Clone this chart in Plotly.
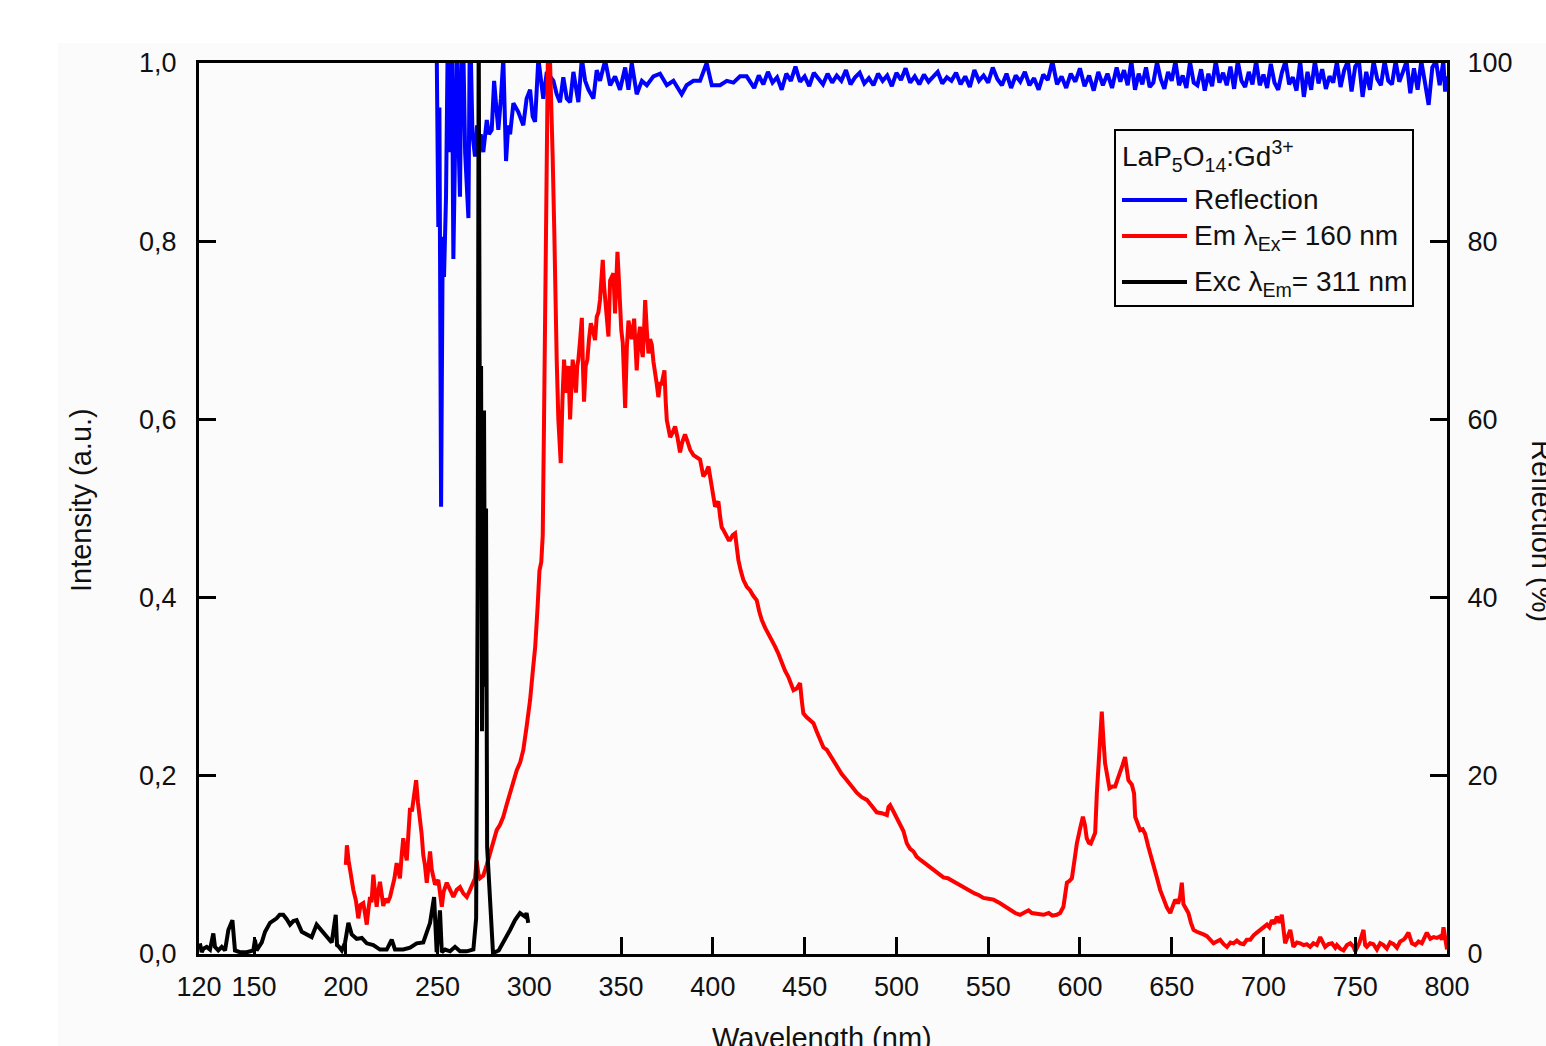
import plotly.graph_objects as go

# ---------------- data ----------------
refl_nm = [249.5, 250.4, 251.0, 251.9, 252.8, 253.5, 254.6, 255.5, 256.8, 257.8, 258.6, 259.5, 260.4, 261.3,
           262.2, 263.0, 264.0, 265.0, 266.8, 267.5, 268.0, 269.0, 270.4, 271.5, 272.5, 273.5, 274.9, 276.8,
           278.0, 279.5, 280.8, 282.0, 283.1, 284.5, 285.8, 287.3, 288.5, 289.5, 291.3, 294.0, 296.7, 298.5,
           300.4, 301.8, 303.1, 304.9, 307.6, 309.5, 311.3, 313.1, 314.9, 316.7, 318.5, 320.4, 322.2, 324.0,
           326.7, 328.6, 330.4, 332.2, 334.9, 336.7, 338.5, 341.3, 344.0, 346.7, 349.4, 352.2, 354.0, 355.8,
           358.5, 361.3, 364.0, 367.6, 371.2, 374.9, 378.5, 383.0, 385.7, 389.4, 393.0, 396.6, 399.4, 403.9,
           407.6, 411.2, 414.8, 418.4, 420.0, 422.5, 425.0, 427.5, 430.0, 432.5, 435.0, 437.5, 440.0, 442.5,
           445.0, 447.5, 450.0, 452.5, 455.0, 457.5, 460.0, 462.5, 465.0, 467.5, 470.0, 472.5, 475.0, 477.5,
           480.0, 482.5, 485.0, 487.5, 490.0, 492.5, 495.0, 497.5, 500.0, 502.5, 505.0, 507.5, 510.0, 512.5,
           515.0, 517.5, 520.0, 522.5, 525.0, 527.5, 530.0, 532.5, 535.0, 537.5, 540.0, 542.5, 545.0, 547.5,
           550.0, 552.5, 555.0, 557.5, 560.0, 562.5, 565.0, 567.5, 570.0, 572.5, 575.0, 577.5, 580.0, 582.5,
           585.0, 587.5, 590.0, 592.5, 595.0, 597.5, 600.0, 602.5, 605.0, 607.5, 610.0, 612.5, 615.0, 617.5,
           620.0, 622.0, 624.0, 626.0, 628.0, 630.0, 632.0, 634.0, 636.0, 638.0, 640.0, 642.0, 644.0, 646.0,
           648.0, 650.0, 652.0, 654.0, 656.0, 658.0, 660.0, 662.0, 664.0, 666.0, 668.0, 670.0, 672.0, 674.0,
           676.0, 678.0, 680.0, 682.0, 684.0, 686.0, 688.0, 690.0, 692.0, 694.0, 696.0, 698.0, 700.0, 702.0,
           704.0, 706.0, 708.0, 710.0, 712.0, 714.0, 716.0, 718.0, 720.0, 722.0, 724.0, 726.0, 728.0, 730.0,
           732.0, 734.0, 736.0, 738.0, 740.0, 742.0, 744.0, 746.0, 748.0, 750.0, 752.0, 754.0, 756.0, 758.0,
           760.0, 762.0, 764.0, 766.0, 768.0, 770.0, 772.0, 774.0, 776.0, 778.0, 780.0, 782.0, 784.0, 786.0,
           788.0, 790.0, 792.0, 794.0, 796.0, 798.0, 799.0, 800.0]
refl_pct = [102.0, 81.6, 95.0, 50.2, 80.5, 76.0, 85.0, 102.0, 90.0, 102.0, 78.0, 95.0, 102.0, 92.0,
            85.0, 102.0, 102.0, 90.0, 82.6, 102.0, 102.0, 92.0, 89.5, 93.0, 91.0, 92.0, 90.0, 93.6,
            92.0, 92.5, 98.0, 95.0, 92.5, 96.0, 100.5, 89.0, 93.0, 92.0, 95.5, 94.5, 93.0, 96.0,
            97.0, 94.0, 93.4, 100.5, 96.0, 99.0, 98.5, 98.0, 96.5, 95.6, 98.4, 96.0, 95.6, 99.0,
            95.6, 100.5, 98.0, 97.0, 96.0, 99.2, 98.0, 100.3, 97.5, 98.5, 97.0, 99.5, 97.0, 100.0,
            96.5, 98.0, 97.5, 98.5, 98.8, 97.5, 98.0, 96.5, 97.5, 98.0, 98.0, 100.0, 97.5, 97.5,
            98.0, 97.8, 98.5, 98.5, 98.0, 97.2, 98.6, 97.6, 99.0, 97.8, 98.4, 97.0, 98.8, 98.0,
            99.6, 97.9, 98.5, 97.4, 98.9, 98.2, 97.6, 98.8, 97.8, 98.6, 98.0, 99.2, 97.6, 98.4,
            98.9, 97.7, 98.3, 97.5, 98.8, 98.0, 98.6, 97.4, 98.9, 98.1, 99.4, 97.8, 98.5, 97.6,
            98.7, 97.9, 98.5, 99.0, 97.7, 98.4, 98.0, 98.9, 97.6, 98.5, 97.3, 99.2, 98.0, 98.6,
            97.8, 99.5, 98.2, 97.5, 98.8, 97.2, 98.6, 97.9, 99.0, 97.5, 98.3, 97.0, 98.7, 98.1,
            100.2, 97.6, 98.5, 97.2, 98.8, 97.9, 99.4, 97.4, 98.6, 96.9, 99.0, 97.5, 98.8, 97.2,
            99.5, 97.9, 99.2, 97.5, 100.2, 97.0, 98.8, 97.6, 99.5, 97.3, 97.8, 100.1, 98.2, 97.1,
            99.0, 98.0, 100.2, 97.5, 98.6, 97.2, 100.1, 97.8, 97.5, 99.3, 96.9, 98.8, 97.4, 100.2,
            97.8, 98.9, 97.5, 99.6, 97.1, 100.2, 98.0, 97.3, 99.0, 97.6, 100.2, 97.5, 98.7, 97.2,
            99.9, 97.8, 97.0, 98.9, 100.2, 97.6, 98.4, 96.9, 100.2, 96.2, 99.0, 97.0, 100.2, 97.7,
            99.3, 97.1, 98.5, 97.8, 100.1, 97.3, 99.2, 100.2, 96.8, 99.6, 100.2, 96.2, 99.0, 97.0,
            100.2, 98.2, 97.5, 100.2, 98.0, 97.6, 100.2, 97.9, 99.0, 100.2, 96.6, 99.4, 97.0, 100.2,
            97.8, 95.3, 99.5, 100.2, 97.5, 100.2, 96.8, 98.5]

em_nm = [200.0, 200.6, 201.5, 202.5, 204.1, 205.5, 206.8, 208.0, 209.5, 210.5, 211.4, 212.3, 213.2, 214.0,
         215.0, 215.9, 216.8, 217.7, 218.6, 219.5, 220.4, 221.5, 222.8, 224.1, 225.2, 226.5, 227.7, 228.6,
         229.5, 230.4, 231.3, 232.2, 233.2, 234.1, 235.0, 236.0, 237.2, 238.3, 239.3, 240.4, 241.3, 242.2,
         243.1, 244.1, 245.0, 245.9, 246.8, 247.7, 248.6, 250.4, 251.3, 252.3, 253.3, 255.0, 256.8, 258.6,
         260.4, 262.2, 264.0, 265.9, 267.7, 269.5, 270.4, 271.3, 272.2, 273.1, 274.9, 276.8, 278.6, 280.4,
         282.2, 284.0, 285.8, 287.7, 289.5, 291.3, 293.1, 295.0, 296.7, 298.5, 300.4, 302.0, 303.2, 304.5,
         305.5, 306.5, 307.3, 308.0, 308.7, 309.5, 310.3, 311.3, 312.0, 312.7, 313.6, 314.3, 314.9, 315.8,
         317.1, 318.0, 318.9, 319.6, 320.4, 321.3, 322.2, 323.0, 323.6, 324.5, 325.4, 326.1, 326.7, 327.7,
         328.6, 329.2, 329.8, 330.7, 331.6, 332.5, 333.5, 334.6, 335.8, 336.7, 337.6, 338.5, 339.3, 340.0,
         340.7, 341.3, 342.2, 343.1, 344.0, 345.0, 345.8, 346.7, 347.4, 348.0, 348.7, 349.4, 350.1, 350.9,
         351.5, 352.2, 353.1, 354.0, 354.9, 355.8, 357.1, 357.8, 358.5, 359.4, 360.3, 361.0, 361.8, 362.5,
         363.1, 364.0, 364.9, 365.8, 366.7, 367.6, 368.5, 369.4, 370.3, 371.2, 372.1, 372.8, 373.6, 374.3,
         374.9, 375.8, 376.7, 378.0, 379.4, 380.7, 382.1, 383.4, 384.8, 386.2, 387.6, 389.4, 391.2, 393.0,
         394.8, 396.2, 397.6, 399.0, 400.2, 401.2, 402.1, 403.0, 404.0, 404.8, 405.7, 407.0, 408.5, 409.4,
         410.8, 412.1, 413.0, 413.9, 415.2, 416.6, 418.5, 420.3, 422.0, 423.9, 425.2, 426.6, 428.5, 430.2,
         432.0, 433.9, 435.7, 437.5, 439.3, 441.1, 442.5, 443.9, 445.7, 447.5, 448.4, 449.3, 451.0, 452.8,
         454.8, 456.5, 458.4, 460.2, 462.1, 464.8, 467.5, 470.2, 473.0, 475.7, 478.4, 481.1, 483.9, 486.6,
         489.3, 492.0, 494.8, 495.7, 496.6, 498.4, 500.2, 502.0, 503.8, 505.7, 507.5, 509.3, 511.1, 513.5,
         515.9, 518.4, 520.8, 523.2, 525.6, 528.0, 530.5, 532.9, 535.3, 537.7, 540.2, 542.6, 545.0, 547.4,
         550.1, 552.9, 556.5, 559.2, 562.0, 564.7, 567.4, 570.0, 572.0, 573.8, 576.8, 580.1, 583.0, 585.0,
         587.4, 589.2, 591.0, 592.9, 594.3, 595.6, 597.0, 598.3, 600.0, 601.6, 602.7, 603.7, 604.8, 605.9,
         607.1, 608.3, 609.2, 610.1, 611.0, 611.9, 612.8, 613.7, 614.9, 616.1, 617.6, 619.2, 620.5, 621.9,
         623.2, 624.6, 625.5, 626.4, 628.3, 629.5, 630.1, 631.5, 632.8, 634.2, 635.5, 637.3, 638.7, 640.1,
         641.9, 643.7, 645.5, 647.4, 649.2, 650.5, 651.9, 652.8, 653.7, 654.6, 655.5, 656.4, 657.7, 659.1,
         660.5, 661.9, 663.7, 665.5, 667.3, 669.2, 671.0, 672.8, 674.6, 676.4, 678.3, 680.1, 682.0, 683.7,
         685.5, 687.3, 689.2, 690.9, 692.8, 694.6, 696.4, 698.2, 700.0, 701.9, 703.2, 704.6, 706.0, 707.3,
         708.7, 710.0, 711.8, 713.2, 714.6, 716.3, 718.2, 720.0, 721.8, 723.6, 725.4, 727.2, 729.1, 730.9,
         732.3, 733.6, 735.4, 737.3, 739.1, 740.0, 741.8, 743.6, 745.5, 747.3, 749.1, 750.0, 752.2, 754.5,
         755.4, 756.3, 758.1, 759.9, 761.8, 763.6, 765.4, 767.2, 769.0, 770.9, 772.7, 774.5, 776.3, 777.2,
         779.0, 780.9, 782.7, 784.5, 786.3, 788.1, 789.0, 790.9, 792.7, 794.5, 796.3, 797.2, 798.1, 799.0,
         800.0]
em_int = [0.100, 0.122, 0.105, 0.090, 0.072, 0.060, 0.040, 0.055, 0.057, 0.045, 0.033, 0.050, 0.064, 0.058,
          0.089, 0.070, 0.053, 0.070, 0.081, 0.068, 0.054, 0.062, 0.058, 0.064, 0.072, 0.085, 0.102, 0.090,
          0.085, 0.110, 0.130, 0.115, 0.105, 0.135, 0.164, 0.160, 0.180, 0.195, 0.170, 0.154, 0.135, 0.111,
          0.100, 0.080, 0.100, 0.115, 0.095, 0.083, 0.078, 0.083, 0.065, 0.053, 0.070, 0.080, 0.072, 0.064,
          0.072, 0.075, 0.068, 0.064, 0.072, 0.081, 0.085, 0.105, 0.090, 0.085, 0.088, 0.100, 0.113, 0.125,
          0.139, 0.145, 0.154, 0.168, 0.180, 0.195, 0.206, 0.215, 0.229, 0.255, 0.285, 0.320, 0.345, 0.390,
          0.430, 0.440, 0.470, 0.600, 0.780, 0.950, 1.050, 1.000, 0.920, 0.895, 0.810, 0.720, 0.667, 0.600,
          0.551, 0.620, 0.667, 0.640, 0.630, 0.660, 0.600, 0.640, 0.667, 0.650, 0.630, 0.660, 0.667, 0.690,
          0.714, 0.660, 0.620, 0.660, 0.667, 0.690, 0.708, 0.700, 0.689, 0.715, 0.720, 0.734, 0.760, 0.779,
          0.750, 0.734, 0.710, 0.693, 0.756, 0.760, 0.764, 0.719, 0.760, 0.788, 0.760, 0.719, 0.700, 0.686,
          0.650, 0.613, 0.680, 0.711, 0.700, 0.690, 0.713, 0.690, 0.655, 0.690, 0.704, 0.680, 0.670, 0.700,
          0.734, 0.700, 0.674, 0.690, 0.684, 0.665, 0.648, 0.640, 0.625, 0.640, 0.640, 0.650, 0.655, 0.620,
          0.599, 0.590, 0.580, 0.585, 0.592, 0.580, 0.563, 0.575, 0.583, 0.575, 0.566, 0.560, 0.557, 0.555,
          0.536, 0.540, 0.547, 0.530, 0.515, 0.502, 0.505, 0.508, 0.490, 0.479, 0.476, 0.470, 0.465, 0.465,
          0.470, 0.472, 0.455, 0.442, 0.430, 0.420, 0.412, 0.408, 0.402, 0.397, 0.385, 0.375, 0.366, 0.360,
          0.352, 0.345, 0.337, 0.327, 0.318, 0.311, 0.303, 0.296, 0.298, 0.304, 0.285, 0.270, 0.266, 0.262,
          0.259, 0.250, 0.240, 0.232, 0.229, 0.220, 0.210, 0.202, 0.195, 0.188, 0.181, 0.176, 0.173, 0.166,
          0.159, 0.158, 0.156, 0.165, 0.167, 0.160, 0.153, 0.147, 0.138, 0.124, 0.118, 0.115, 0.109, 0.105,
          0.101, 0.098, 0.094, 0.090, 0.086, 0.085, 0.082, 0.080, 0.077, 0.073, 0.070, 0.068, 0.066, 0.063,
          0.062, 0.061, 0.057, 0.053, 0.049, 0.046, 0.044, 0.047, 0.049, 0.046, 0.045, 0.044, 0.046, 0.043,
          0.044, 0.046, 0.053, 0.080, 0.082, 0.085, 0.105, 0.124, 0.140, 0.154, 0.145, 0.130, 0.125, 0.124,
          0.130, 0.136, 0.180, 0.214, 0.250, 0.272, 0.240, 0.214, 0.200, 0.186, 0.188, 0.188, 0.196, 0.206,
          0.212, 0.221, 0.205, 0.195, 0.190, 0.180, 0.154, 0.145, 0.139, 0.140, 0.135, 0.120, 0.110, 0.102,
          0.086, 0.072, 0.061, 0.052, 0.046, 0.052, 0.061, 0.058, 0.058, 0.065, 0.080, 0.056, 0.050, 0.046,
          0.035, 0.027, 0.025, 0.024, 0.022, 0.020, 0.016, 0.012, 0.014, 0.016, 0.011, 0.008, 0.013, 0.012,
          0.015, 0.012, 0.011, 0.016, 0.016, 0.021, 0.024, 0.027, 0.029, 0.033, 0.030, 0.038, 0.034, 0.042,
          0.035, 0.044, 0.012, 0.020, 0.027, 0.008, 0.013, 0.012, 0.010, 0.011, 0.008, 0.012, 0.010, 0.019,
          0.012, 0.008, 0.011, 0.012, 0.007, 0.010, 0.006, 0.004, 0.010, 0.012, 0.008, 0.003, 0.012, 0.027,
          0.010, 0.008, 0.012, 0.011, 0.005, 0.012, 0.010, 0.006, 0.013, 0.011, 0.007, 0.014, 0.016, 0.018,
          0.024, 0.012, 0.010, 0.014, 0.012, 0.020, 0.024, 0.017, 0.019, 0.018, 0.020, 0.016, 0.030, 0.018,
          0.005]

exc_nm = [120.5, 121.5, 122.4, 124.2, 126.0, 127.8, 128.7, 130.5, 132.4, 134.2, 136.0, 138.2, 139.6, 142.3,
          146.0, 149.6, 150.5, 151.4, 154.2, 156.0, 158.7, 162.3, 164.0, 165.9, 167.8, 169.6, 171.4, 173.2,
          176.0, 178.7, 181.4, 184.1, 186.9, 189.6, 192.3, 194.5, 195.2, 195.9, 197.8, 199.6, 201.4, 203.2,
          205.9, 208.7, 211.4, 215.0, 218.6, 222.3, 225.0, 226.8, 231.3, 235.0, 238.6, 242.2, 244.1, 245.9,
          248.1, 249.5, 251.3, 252.3, 254.1, 256.8, 259.5, 262.2, 265.9, 269.5, 271.0, 271.8, 272.4, 273.0,
          273.7, 274.2, 274.8, 275.3, 275.9, 276.4, 277.0, 277.5, 278.5, 279.3, 280.2, 283.3, 286.7, 289.5,
          292.2, 294.9, 297.6, 298.5, 299.4]
exc_int = [0.012, 0.002, 0.006, 0.008, 0.005, 0.023, 0.008, 0.004, 0.008, 0.004, 0.027, 0.038, 0.004, 0.002,
           0.002, 0.004, 0.016, 0.004, 0.013, 0.025, 0.035, 0.040, 0.044, 0.044, 0.039, 0.033, 0.037, 0.038,
           0.025, 0.022, 0.019, 0.033, 0.026, 0.018, 0.013, 0.044, 0.010, 0.009, 0.004, 0.013, 0.035, 0.022,
           0.017, 0.018, 0.012, 0.010, 0.005, 0.005, 0.016, 0.005, 0.005, 0.007, 0.012, 0.013, 0.025, 0.035,
           0.064, 0.002, 0.049, 0.002, 0.005, 0.003, 0.008, 0.003, 0.003, 0.005, 0.040, 0.400, 1.050, 0.600,
           0.660, 0.250, 0.450, 0.610, 0.300, 0.500, 0.120, 0.100, 0.060, 0.020, 0.001, 0.004, 0.016, 0.027,
           0.038, 0.046, 0.042, 0.046, 0.035]

x_ticks = [120, 150, 200, 250, 300, 350, 400, 450, 500, 550, 600, 650, 700, 750, 800]
left_ticks = [0.0, 0.2, 0.4, 0.6, 0.8, 1.0]
left_tick_text = ["0,0", "0,2", "0,4", "0,6", "0,8", "1,0"]
right_ticks = [0, 20, 40, 60, 80, 100]

# ---------------- layout helpers ----------------
W, H = 1546, 1046
L, R, T, B = 199, 1447, 63, 954
FONT = "Liberation Sans, Arial, sans-serif"
TXT = "#111111"


def px(x):
    return (x - L) / (R - L)


def py(y):
    return (B - y) / (B - T)


fig = go.Figure()

fig.add_trace(go.Scatter(x=refl_nm, y=refl_pct, mode="lines", name="Reflection",
                         line=dict(color="#0000ff", width=4), yaxis="y", showlegend=False))
fig.add_trace(go.Scatter(x=em_nm, y=em_int, mode="lines", name="Em",
                         line=dict(color="#ff0000", width=4), yaxis="y2", showlegend=False))
fig.add_trace(go.Scatter(x=exc_nm, y=exc_int, mode="lines", name="Exc",
                         line=dict(color="#000000", width=4), yaxis="y2", showlegend=False))

axis_font = dict(family=FONT, size=27, color=TXT)

fig.update_layout(
    width=W, height=H, autosize=False,
    margin=dict(l=L, r=W - R, t=T, b=H - B, pad=0),
    paper_bgcolor="#ffffff",
    plot_bgcolor="#fbfbfb",
    font=dict(family=FONT, size=27, color=TXT),
    xaxis=dict(range=[120, 800], tickvals=x_ticks, ticktext=[str(v) for v in x_ticks],
               ticks="inside", ticklen=17, tickwidth=3, tickcolor="#000",
               showline=True, linewidth=3, linecolor="#000", mirror=True,
               showgrid=False, zeroline=False, tickfont=axis_font, ticklabelstandoff=7),
    yaxis=dict(range=[0, 100], side="right", tickvals=right_ticks,
               ticks="inside", ticklen=17, tickwidth=3, tickcolor="#000",
               showline=True, linewidth=3, linecolor="#000",
               showgrid=False, zeroline=False, tickfont=axis_font, ticklabelstandoff=12),
    yaxis2=dict(range=[0, 1], side="left", overlaying="y", tickvals=left_ticks, ticktext=left_tick_text,
                ticks="inside", ticklen=17, tickwidth=3, tickcolor="#000",
                showline=True, linewidth=3, linecolor="#000",
                showgrid=False, zeroline=False, tickfont=axis_font, ticklabelstandoff=14),
    showlegend=False,
)

# light backdrop region like the reference
fig.add_shape(type="rect", xref="paper", yref="paper", x0=px(58), x1=px(W), y0=py(H), y1=py(43),
              fillcolor="#fbfbfb", line=dict(width=0), layer="below")

# axis titles (the reference crops the right and bottom titles at the page edge)
fig.add_annotation(text="Intensity (a.u.)", xref="paper", yref="paper", x=px(81), y=py(500),
                   textangle=-90, showarrow=False, font=dict(family=FONT, size=29, color=TXT),
                   xanchor="center", yanchor="middle")
fig.add_annotation(text="Reflection (%)", xref="paper", yref="paper", x=px(1542), y=py(531),
                   textangle=90, showarrow=False, font=dict(family=FONT, size=29, color=TXT),
                   xanchor="center", yanchor="middle")
fig.add_annotation(text="Wavelength (nm)", xref="paper", yref="paper", x=px(822), y=py(1038),
                   showarrow=False, font=dict(family=FONT, size=29, color=TXT),
                   xanchor="center", yanchor="middle")

# legend box (drawn manually to match the long line samples)
fig.add_shape(type="rect", xref="paper", yref="paper", x0=px(1115), x1=px(1413), y0=py(306), y1=py(130),
              line=dict(color="#000", width=2), fillcolor="#fbfbfb")
fig.add_annotation(text="LaP<sub>5</sub>O<sub>14</sub>:Gd<sup>3+</sup>", xref="paper", yref="paper",
                   x=px(1120), y=py(156), xanchor="left", yanchor="middle", showarrow=False,
                   font=dict(family=FONT, size=28, color=TXT))
legend_items = [("#0000ff", "Reflection", 200),
                ("#ff0000", "Em λ<sub>Ex</sub>= 160 nm", 237),
                ("#000000", "Exc λ<sub>Em</sub>= 311 nm", 283)]
for color, label, yy in legend_items:
    fig.add_shape(type="line", xref="paper", yref="paper", x0=px(1122), x1=px(1187),
                  y0=py(yy if label == "Reflection" else yy - 1), y1=py(yy if label == "Reflection" else yy - 1),
                  line=dict(color=color, width=4))
    fig.add_annotation(text=label, xref="paper", yref="paper", x=px(1192), y=py(yy),
                       xanchor="left", yanchor="middle", showarrow=False,
                       font=dict(family=FONT, size=28, color=TXT))

fig.write_html("out.html")
